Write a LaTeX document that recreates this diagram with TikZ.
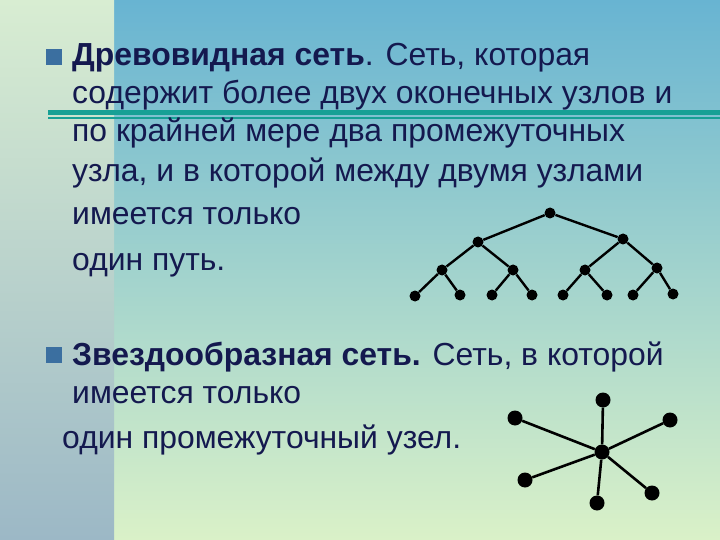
\documentclass[tikz,border=0pt]{standalone}
\usepackage{fontspec}
\setmainfont{Liberation Sans}
\usepackage{tikz}

\definecolor{textblue}{HTML}{14194F}
\definecolor{bulletblue}{HTML}{3B6FA0}
\definecolor{tealline}{HTML}{17A095}
\definecolor{sky}{HTML}{68B4D2}
\definecolor{meadow}{HTML}{DAF1C8}
\definecolor{stripgreen}{HTML}{D8EDD2}
\definecolor{stripgrey}{HTML}{9CB8C6}

\tikzset{
  txt/.style={anchor=base west,inner sep=0pt,text=textblue,font=\fontsize{32}{38}\selectfont},
  bul/.style={fill=bulletblue,minimum size=16bp,inner sep=0pt,anchor=south west},
  vert/.style={circle,fill=black,inner sep=0pt,minimum size=11bp},
  hub/.style={circle,fill=black,inner sep=0pt,minimum size=15bp}
}

\begin{document}
\begin{tikzpicture}[x=1bp,y=-1bp]
  \useasboundingbox (0,0) rectangle (720,540);
  \shade[top color=sky,bottom color=meadow] (114,0) rectangle (720,540);
  \shade[top color=stripgreen,bottom color=stripgrey] (0,0) rectangle (114,540);
  \fill[tealline] (48,110) rectangle (720,115.5);
  \fill[tealline] (48,117.5) rectangle (720,119.5);

  \node[bul] (q1) at (46,65) {};
  \node[txt] (t1) at (72,66) {\textbf{Древовидная сеть}. Сеть, которая};
  \node[txt] (t2) at (72,104) {содержит более двух оконечных узлов и};
  \node[txt] (t3) at (72,142) {по крайней мере два промежуточных};
  \node[txt] (t4) at (72,182) {узла, и в которой между двумя узлами};
  \node[txt] (t5) at (72,225) {имеется только};
  \node[txt] (t6) at (72,271) {один путь.};

  \node[bul] (q2) at (46,363) {};
  \node[txt] (t7) at (72,365) {\textbf{Звездообразная сеть.} Сеть, в которой};
  \node[txt] (t8) at (72,403) {имеется только};
  \node[txt] (t9) at (62,448) {один промежуточный узел.};

  \node[vert] (r) at (550,213) {};
  \node[vert] (a1) at (478,242) {};
  \node[vert] (a2) at (623,239) {};
  \node[vert] (b1) at (442,270) {};
  \node[vert] (b2) at (513,270) {};
  \node[vert] (b3) at (585,270) {};
  \node[vert] (b4) at (657,268) {};
  \node[vert] (c1) at (415,296) {};
  \node[vert] (c2) at (460,295) {};
  \node[vert] (c3) at (492,295) {};
  \node[vert] (c4) at (532,295) {};
  \node[vert] (c5) at (563,295) {};
  \node[vert] (c6) at (607,295) {};
  \node[vert] (c7) at (633,295) {};
  \node[vert] (c8) at (673,294) {};

  \draw[line width=2.4bp] (r) -- (a1);
  \draw[line width=2.4bp] (r) -- (a2);
  \draw[line width=2.4bp] (a1) -- (b1);
  \draw[line width=2.4bp] (a1) -- (b2);
  \draw[line width=2.4bp] (a2) -- (b3);
  \draw[line width=2.4bp] (a2) -- (b4);
  \draw[line width=2.4bp] (b1) -- (c1);
  \draw[line width=2.4bp] (b1) -- (c2);
  \draw[line width=2.4bp] (b2) -- (c3);
  \draw[line width=2.4bp] (b2) -- (c4);
  \draw[line width=2.4bp] (b3) -- (c5);
  \draw[line width=2.4bp] (b3) -- (c6);
  \draw[line width=2.4bp] (b4) -- (c7);
  \draw[line width=2.4bp] (b4) -- (c8);

  \node[hub] (s0) at (602,452) {};
  \node[hub] (s1) at (603,400) {};
  \node[hub] (s2) at (515,418) {};
  \node[hub] (s3) at (670,420) {};
  \node[hub] (s4) at (525,480) {};
  \node[hub] (s5) at (597,503) {};
  \node[hub] (s6) at (652,493) {};

  \draw[line width=2.6bp] (s0) -- (s1);
  \draw[line width=2.6bp] (s0) -- (s2);
  \draw[line width=2.6bp] (s0) -- (s3);
  \draw[line width=2.6bp] (s0) -- (s4);
  \draw[line width=2.6bp] (s0) -- (s5);
  \draw[line width=2.6bp] (s0) -- (s6);

\end{tikzpicture}
\end{document}
